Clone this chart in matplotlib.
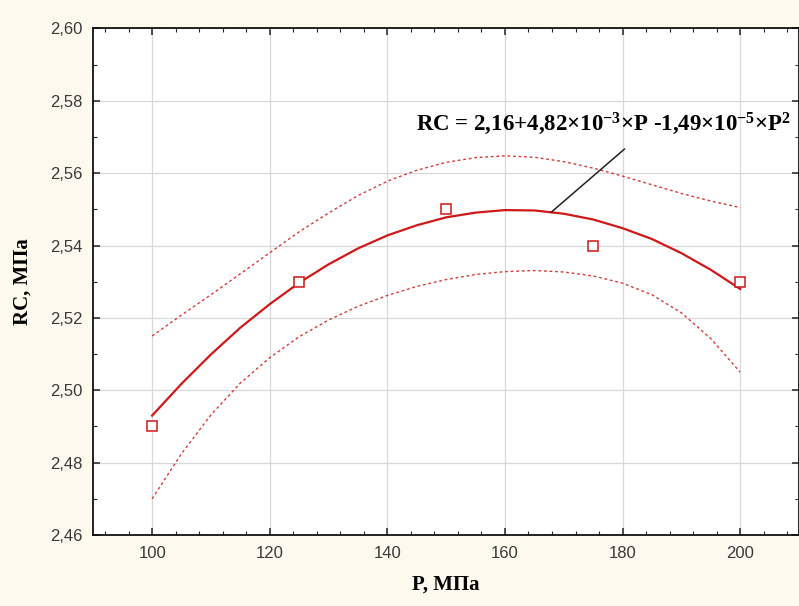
import numpy as np
import matplotlib
matplotlib.use("Agg")
import matplotlib.pyplot as plt
from matplotlib.ticker import MultipleLocator, FuncFormatter

# measured points
p_obs = [100, 125, 150, 175, 200]
rc_obs = [2.490, 2.530, 2.550, 2.540, 2.530]

# fitted curve and confidence band
p_line = [100, 105, 110, 115, 120, 125, 130, 135, 140, 145, 150,
          155, 160, 165, 170, 175, 180, 185, 190, 195, 200]
rc_fit = [2.4930, 2.5018, 2.5099, 2.5173, 2.5238, 2.5297, 2.5348, 2.5392,
          2.5428, 2.5456, 2.5478, 2.5491, 2.5498, 2.5497, 2.5488, 2.5472,
          2.5448, 2.5418, 2.5379, 2.5333, 2.5280]
rc_up = [2.5150, 2.5208, 2.5264, 2.5322, 2.5380, 2.5438, 2.5490, 2.5538,
         2.5578, 2.5608, 2.5630, 2.5643, 2.5648, 2.5644, 2.5632, 2.5614,
         2.5592, 2.5568, 2.5544, 2.5523, 2.5505]
rc_low = [2.4700, 2.4825, 2.4932, 2.5020, 2.5090, 2.5148, 2.5194, 2.5232,
          2.5262, 2.5287, 2.5306, 2.5320, 2.5328, 2.5331, 2.5327, 2.5316,
          2.5296, 2.5264, 2.5214, 2.5143, 2.5050]

equation = r"RC = 2,16+4,82×10$^{-3}$×P -1,49×10$^{-5}$×P$^{2}$"

plt.rcParams["mathtext.default"] = "regular"
red = "#d01818"

fig = plt.figure(figsize=(7.99, 6.06), dpi=100, facecolor="#fdf9ef")
ax = fig.add_axes([0.1168, 0.1172, 0.8832, 0.8358])
ax.set_facecolor("white")

ax.plot(p_line, rc_up, color=red, lw=1.0, ls=(0, (2, 2)), alpha=0.85)
ax.plot(p_line, rc_low, color=red, lw=1.0, ls=(0, (2, 2)), alpha=0.85)
ax.plot(p_line, rc_fit, color=red, lw=1.6)
ax.plot(p_obs, rc_obs, ls="none", marker="s", ms=6.5, mfc="white",
        mec=red, mew=1.1, zorder=5)

ax.annotate("", xy=(167.5, 2.5487), xytext=(180.7, 2.5672),
            arrowprops=dict(arrowstyle="-", color="#222222", lw=1.1))
ax.text(144.8, 2.5735, equation, fontsize=16.5, fontweight="bold",
        family="Liberation Serif", va="center", ha="left")

ax.set_xlim(90, 210)
ax.set_ylim(2.46, 2.60)
ax.xaxis.set_major_locator(MultipleLocator(20))
ax.xaxis.set_minor_locator(MultipleLocator(4))
ax.yaxis.set_major_locator(MultipleLocator(0.02))
ax.yaxis.set_minor_locator(MultipleLocator(0.01))
ax.yaxis.set_major_formatter(FuncFormatter(lambda v, pos: f"{v:.2f}".replace(".", ",")))
ax.xaxis.set_major_formatter(FuncFormatter(lambda v, pos: f"{v:.0f}"))

ax.grid(True, which="major", color="#d8d8d8", lw=0.9)
ax.set_axisbelow(True)
ax.tick_params(which="both", direction="in", top=True, right=True,
               colors="#222222", labelcolor="#3a3a3a")
ax.tick_params(which="major", length=5, width=1.1, labelsize=12, pad=8)
ax.tick_params(which="minor", length=3, width=0.8)
for lbl in ax.get_xticklabels() + ax.get_yticklabels():
    lbl.set_family("Liberation Sans")
for sp in ax.spines.values():
    sp.set_linewidth(1.3)
    sp.set_color("#111111")

ax.set_xlabel("P, МПа", fontsize=15, fontweight="bold",
              family="Liberation Serif", labelpad=10)
ax.set_ylabel("RC, МПа", fontsize=15, fontweight="bold",
              family="Liberation Serif", labelpad=12)

fig.savefig("out.png", dpi=100, facecolor=fig.get_facecolor())
